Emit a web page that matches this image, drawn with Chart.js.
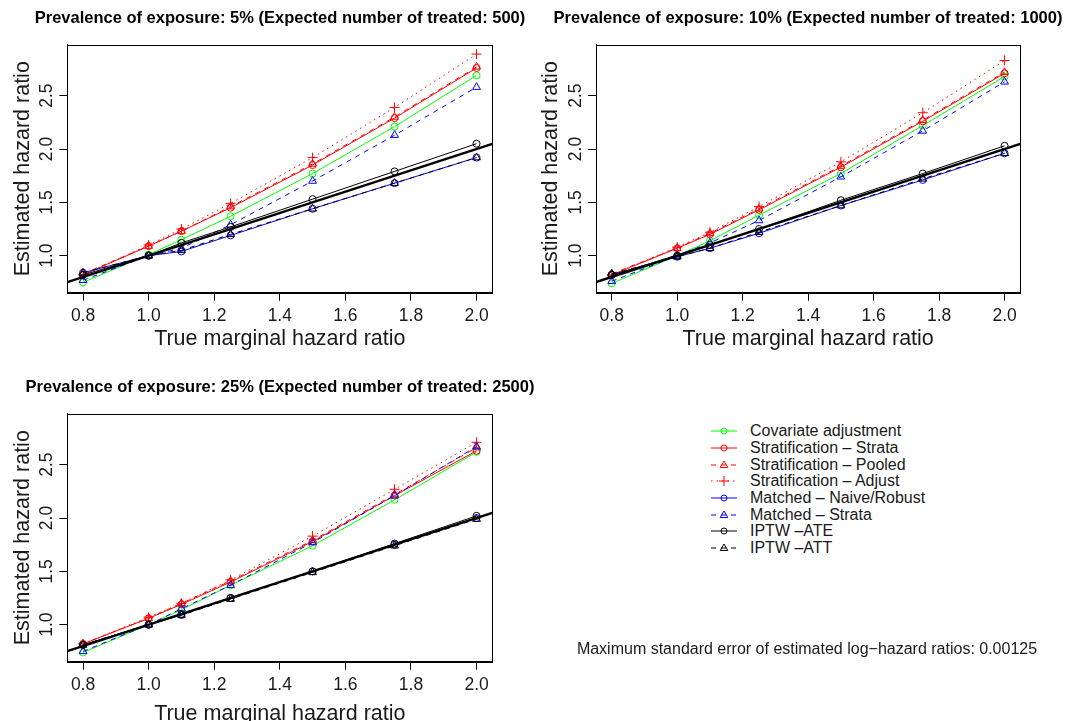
<!DOCTYPE html>
<html lang="en">
<head>
<meta charset="UTF-8">
<title>Estimated versus true marginal hazard ratio</title>
<script src="https://cdn.jsdelivr.net/npm/chart.js@4.4.1/dist/chart.umd.min.js"></script>
<style>
  body { margin: 0; background: #ffffff; width: 1072px; height: 721px; overflow: hidden; position: relative;
         font-family: "Liberation Sans", Arial, Helvetica, sans-serif; color: #1a1a1a; }
  .panel { position: absolute; width: 560px; height: 369px; }
  #legend { position: absolute; left: 706px; top: 423px; font-size: 16px; }
  #legend .row { height: 16.7px; display: flex; align-items: center; white-space: nowrap; }
  #legend svg { width: 44px; height: 16px; flex: none; }
  #note { position: absolute; left: 557px; width: 500px; top: 640px; text-align: center; font-size: 16px; white-space: nowrap; }
</style>
</head>
<body>
<div class="panel" style="left:0px;top:0px"><canvas id="p05" width="560" height="369"></canvas></div>
<div class="panel" style="left:528px;top:0px"><canvas id="p10" width="560" height="369"></canvas></div>
<div class="panel" style="left:0px;top:369px"><canvas id="p25" width="560" height="369"></canvas></div>
<div id="legend"></div>
<div id="note">Maximum standard error of estimated log&minus;hazard ratios: 0.00125</div>

<script>
// true marginal hazard ratios (x values)
const hrTrue = [0.8, 1.0, 1.1, 1.25, 1.5, 1.75, 2.0];
const xTicks = [0.8, 1.0, 1.2, 1.4, 1.6, 1.8, 2.0];
const yTicks = [1.0, 1.5, 2.0, 2.5];

// prevalence 5%
const covAdj05    = [0.75, 1.01, 1.15, 1.37, 1.77, 2.21, 2.69];
const strStrata05 = [0.82, 1.09, 1.23, 1.45, 1.85, 2.29, 2.76];
const strPooled05 = [0.83, 1.09, 1.23, 1.46, 1.86, 2.30, 2.77];
const strAdjust05 = [0.82, 1.10, 1.25, 1.49, 1.92, 2.39, 2.89];
const matNaive05  = [0.84, 1.00, 1.04, 1.19, 1.44, 1.68, 1.92];
const matStrata05 = [0.77, 1.00, 1.07, 1.29, 1.70, 2.13, 2.58];
const iptwAte05   = [0.82, 1.00, 1.12, 1.27, 1.53, 1.79, 2.05];
const iptwAtt05   = [0.84, 1.00, 1.05, 1.20, 1.44, 1.68, 1.92];

// prevalence 10%
const covAdj10    = [0.74, 1.00, 1.14, 1.38, 1.77, 2.22, 2.68];
const strStrata10 = [0.82, 1.07, 1.20, 1.43, 1.83, 2.26, 2.71];
const strPooled10 = [0.83, 1.07, 1.21, 1.44, 1.84, 2.27, 2.72];
const strAdjust10 = [0.82, 1.08, 1.22, 1.46, 1.88, 2.34, 2.83];
const matNaive10  = [0.82, 0.99, 1.07, 1.21, 1.47, 1.71, 1.96];
const matStrata10 = [0.76, 1.00, 1.12, 1.33, 1.74, 2.17, 2.63];
const iptwAte10   = [0.82, 1.00, 1.10, 1.25, 1.52, 1.77, 2.03];
const iptwAtt10   = [0.83, 0.99, 1.07, 1.22, 1.47, 1.72, 1.96];

// prevalence 25%
const covAdj25    = [0.74, 1.00, 1.14, 1.37, 1.74, 2.17, 2.62];
const strStrata25 = [0.82, 1.06, 1.19, 1.40, 1.78, 2.21, 2.63];
const strPooled25 = [0.82, 1.06, 1.20, 1.41, 1.79, 2.22, 2.66];
const strAdjust25 = [0.82, 1.07, 1.20, 1.42, 1.83, 2.27, 2.71];
const matNaive25  = [0.81, 1.00, 1.09, 1.25, 1.50, 1.75, 2.00];
const matStrata25 = [0.75, 1.00, 1.15, 1.37, 1.77, 2.21, 2.67];
const iptwAte25   = [0.81, 1.00, 1.10, 1.25, 1.50, 1.76, 2.02];
const iptwAtt25   = [0.81, 1.00, 1.09, 1.24, 1.49, 1.74, 1.99];

// axis limits (R style: data range padded by 4%)
const xLim = [0.752, 2.048];
const yLim = [0.653, 2.978];

const methods = [
    { label: 'Covariate adjustment',        color: '#00ff00', dash: [],     point: 'circle',   r: 3.5 },
    { label: 'Stratification \u2013 Strata', color: '#ff0000', dash: [],     point: 'circle',   r: 3.5 },
    { label: 'Stratification \u2013 Pooled', color: '#ff0000', dash: [5, 5], point: 'triangle', r: 4.5 },
    { label: 'Stratification \u2013 Adjust', color: '#ff0000', dash: [1.5, 4], point: 'cross',  r: 5 },
    { label: 'Matched \u2013 Naive/Robust',  color: '#0000ff', dash: [],     point: 'circle',   r: 3.5 },
    { label: 'Matched \u2013 Strata',        color: '#0000ff', dash: [5, 5], point: 'triangle', r: 4.5 },
    { label: 'IPTW \u2013ATE',               color: '#000000', dash: [],     point: 'circle',   r: 3.5 },
    { label: 'IPTW \u2013ATT',               color: '#000000', dash: [5, 5], point: 'triangle', r: 4.5 }
];

const fontFamily = '"Liberation Sans", Arial, Helvetica, sans-serif';
const textColor = '#1a1a1a';
const canvasWidth = 560;
const boxRight = 492.3;   // right edge of the plot box inside each canvas

// draws the closed box round the plot region, like R's box()
const boxPlugin = {
    id: 'box',
    afterDraw(chart) {
        const a = chart.chartArea, ctx = chart.ctx;
        ctx.save();
        ctx.strokeStyle = '#000';
        ctx.lineWidth = 1;
        ctx.strokeRect(Math.round(a.left) + 0.5, Math.round(a.top) + 0.5,
                       Math.round(a.right - a.left), Math.round(a.bottom - a.top));
        ctx.restore();
    }
};

function make_panel(canvas_id, title, series, boxLeft, xTitlePad) {
    var datasets = series.map(function (vals, i) {
        var m = methods[i];
        return {
            label: m.label,
            data: hrTrue.map(function (x, j) { return { x: x, y: vals[j] }; }),
            borderColor: m.color,
            borderWidth: 1,
            borderDash: m.dash,
            pointStyle: m.point,
            pointRadius: m.r,
            pointBorderColor: m.color,
            pointBorderWidth: 1,
            pointBackgroundColor: 'rgba(0,0,0,0)',
            fill: false,
            tension: 0,
            order: methods.length - i + 1
        };
    });

    // the y = x reference line
    datasets.push({
        label: 'identity',
        data: [{ x: xLim[0], y: xLim[0] }, { x: xLim[1], y: xLim[1] }],
        borderColor: '#000',
        borderWidth: 2.5,
        pointRadius: 0,
        fill: false,
        order: 0
    });

    return new Chart(document.getElementById(canvas_id), {
        type: 'line',
        data: { datasets: datasets },
        plugins: [boxPlugin],
        options: {
            responsive: false,
            animation: false,
            layout: { padding: 0 },
            plugins: {
                legend: { display: false },
                tooltip: { enabled: false },
                title: {
                    display: true,
                    text: title,
                    color: '#000',
                    font: { family: fontFamily, size: 16.5, weight: 'bold' },
                    padding: { top: 9, bottom: 15.9 }
                }
            },
            scales: {
                x: {
                    type: 'linear',
                    min: xLim[0],
                    max: xLim[1],
                    afterBuildTicks: function (s) { s.ticks = xTicks.map(function (v) { return { value: v }; }); },
                    afterFit: function (s) { s.height = 76.3; },
                    ticks: {
                        color: textColor,
                        font: { family: fontFamily, size: 17.5 },
                        padding: 5,
                        maxRotation: 0,
                        autoSkip: false,
                        callback: function (v) { return v.toFixed(1); }
                    },
                    grid: { display: true, drawOnChartArea: false, drawTicks: true, tickLength: 8, color: '#000' },
                    border: { display: true, color: '#000' },
                    title: {
                        display: true,
                        text: 'True marginal hazard ratio',
                        color: textColor,
                        font: { family: fontFamily, size: 21.5 },
                        padding: { top: 0, bottom: xTitlePad }
                    }
                },
                y: {
                    type: 'linear',
                    min: yLim[0],
                    max: yLim[1],
                    afterBuildTicks: function (s) { s.ticks = yTicks.map(function (v) { return { value: v }; }); },
                    afterFit: function (s) { s.width = boxLeft; },
                    ticks: {
                        color: textColor,
                        font: { family: fontFamily, size: 17.5 },
                        minRotation: 90,
                        maxRotation: 90,
                        crossAlign: 'center',
                        padding: 0,
                        autoSkip: false,
                        callback: function (v) { return v.toFixed(1); }
                    },
                    grid: { display: true, drawOnChartArea: false, drawTicks: true, tickLength: 8, color: '#000' },
                    border: { display: true, color: '#000' },
                    title: {
                        display: true,
                        text: 'Estimated hazard ratio',
                        color: textColor,
                        font: { family: fontFamily, size: 21.5 },
                        padding: { top: 10 }
                    }
                },
                // empty right margin so the title centres over the plot box, as in R
                margin: {
                    type: 'linear',
                    position: 'right',
                    display: true,
                    ticks: { display: false },
                    grid: { display: false, drawTicks: false },
                    border: { display: false },
                    afterFit: function (s) { s.width = canvasWidth - boxRight; }
                }
            }
        }
    });
}

window._p05 = make_panel('p05', 'Prevalence of exposure: 5% (Expected number of treated: 500)',
    [covAdj05, strStrata05, strPooled05, strAdjust05, matNaive05, matStrata05, iptwAte05, iptwAtt05], 67.3, 17);
window._p10 = make_panel('p10', 'Prevalence of exposure: 10% (Expected number of treated: 1000)',
    [covAdj10, strStrata10, strPooled10, strAdjust10, matNaive10, matStrata10, iptwAte10, iptwAtt10], 68, 17);
window._p25 = make_panel('p25', 'Prevalence of exposure: 25% (Expected number of treated: 2500)',
    [covAdj25, strStrata25, strPooled25, strAdjust25, matNaive25, matStrata25, iptwAte25, iptwAtt25], 67.3, 11);

// legend: line sample with its symbol, then the label
function marker_svg(m) {
    var cx = 18, cy = 8, s = '';
    if (m.point === 'circle') {
        s = '<circle cx="' + cx + '" cy="' + cy + '" r="3" fill="none" stroke="' + m.color + '"/>';
    } else if (m.point === 'triangle') {
        s = '<polygon points="' + cx + ',' + (cy - 4) + ' ' + (cx - 3.8) + ',' + (cy + 2.5) + ' ' + (cx + 3.8) + ',' + (cy + 2.5) +
            '" fill="none" stroke="' + m.color + '"/>';
    } else {
        s = '<path d="M' + (cx - 5) + ' ' + cy + 'H' + (cx + 5) + 'M' + cx + ' ' + (cy - 5) + 'V' + (cy + 5) +
            '" stroke="' + m.color + '"/>';
    }
    var dash = m.dash.length ? ' stroke-dasharray="' + m.dash.join(' ') + '"' : '';
    return '<svg viewBox="0 0 44 16"><line x1="5" y1="8" x2="31" y2="8" stroke="' + m.color + '"' + dash + '/>' + s + '</svg>';
}

var legend = document.getElementById('legend');
methods.forEach(function (m) {
    var row = document.createElement('div');
    row.className = 'row';
    row.innerHTML = marker_svg(m) + '<span>' + m.label + '</span>';
    legend.appendChild(row);
});
</script>
</body>
</html>
